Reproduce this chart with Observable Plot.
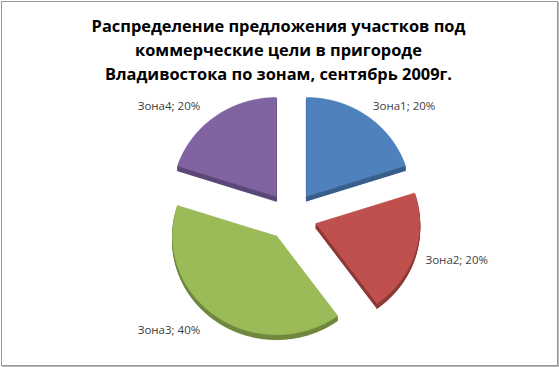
<!DOCTYPE html>
<html>
<head>
<meta charset="utf-8">
<script src="https://cdn.jsdelivr.net/npm/d3@7"></script>
<script src="https://cdn.jsdelivr.net/npm/@observablehq/plot@0.6"></script>
<style>
  html, body { margin: 0; padding: 0; background: #fff; }
  #wrap { position: relative; width: 559px; height: 367px; overflow: hidden; }
  #frame { position: absolute; left: 1px; top: 1px; width: 555px; height: 363px;
           border: 1px solid #9a9a9a; box-shadow: 1px 1px 1px #b8b8b8; }
  #chart { position: absolute; left: 0; top: 0; }
  #title { position: absolute; left: 0; top: 14px; width: 557px; text-align: center;
           font-family: "Open Sans", sans-serif; font-weight: bold; font-size: 16.4px;
           line-height: 24px; color: #000; }
</style>
</head>
<body>
<div id="wrap">
  <div id="frame"></div>
  <div id="chart"></div>
  <div id="title">Распределение предложения участков под<br>коммерческие цели в пригороде<br>Владивостока по зонам, сентябрь 2009г.</div>
</div>
<script>
const labels = ["Зона1", "Зона2", "Зона3", "Зона4"];
const values = [20, 20, 40, 20];
const topColors = ["#4F81BD", "#C0504D", "#9BBB59", "#8064A2"];
const sideColors = ["#3A5F8C", "#8C3A38", "#70883F", "#5D4978"];

const W = 559, H = 367;
const cx = 291, cy = 215.6, rx = 104, ry = 99;   // layout of the pie in pixels
const explode = 0.245, thicknessPx = 5;

const total = d3.sum(values);
const arcs = d3.pie().sort(null).value(d => d)(values);
const fmt = d3.format(".0%");

function slicePoints(a, i, shift, layer, color) {
  const mid = (a.startAngle + a.endAngle) / 2;
  const ox = explode * Math.sin(mid), oy = -explode * Math.cos(mid);
  const key = layer + "-" + i;
  const pts = [{x: ox, y: oy + shift, key, color}];
  const n = Math.max(2, Math.ceil((a.endAngle - a.startAngle) / (Math.PI / 360)));
  for (let k = 0; k <= n; ++k) {
    const ang = a.startAngle + (a.endAngle - a.startAngle) * k / n;
    pts.push({x: ox + Math.sin(ang), y: oy - Math.cos(ang) + shift, key, color});
  }
  return pts;
}

const sides = [], tops = [];
arcs.forEach((a, i) => {
  for (let s = thicknessPx; s >= 1; s -= 0.5) {
    sides.push(...slicePoints(a, i, s / ry, "s" + s, sideColors[i]));
  }
  tops.push(...slicePoints(a, i, 0, "t", topColors[i]));
});

const labelData = arcs.map((a, i) => {
  const mid = (a.startAngle + a.endAngle) / 2;
  const R = explode + 1.15;
  return {
    x: R * Math.sin(mid), y: -R * Math.cos(mid),
    right: Math.sin(mid) > 0,
    text: `${labels[i]}; ${fmt(values[i] / total)}`
  };
});

const plot = Plot.plot({
  width: W, height: H,
  margin: 0,
  x: {domain: [-cx / rx, (W - cx) / rx], range: [0, W], axis: null},
  y: {domain: [-cy / ry, (H - cy) / ry], range: [0, H], axis: null},
  color: {type: "identity"},
  style: {background: "transparent", fontFamily: "Open Sans, sans-serif"},
  marks: [
    Plot.line(sides, {x: "x", y: "y", z: "key", fill: "color", stroke: "color", strokeWidth: 0.5, curve: "linear"}),
    Plot.line(tops, {x: "x", y: "y", z: "key", fill: "color", stroke: "color", strokeWidth: 0.5, curve: "linear"}),
    Plot.text(labelData.filter(d => d.right), {x: "x", y: "y", text: "text", textAnchor: "start", dx: -4, dy: 2, fontSize: 11.5, fill: "#404040"}),
    Plot.text(labelData.filter(d => !d.right), {x: "x", y: "y", text: "text", textAnchor: "end", dx: -6, dy: 2, fontSize: 11.5, fill: "#404040"})
  ]
});
document.getElementById("chart").appendChild(plot);
</script>
</body>
</html>
